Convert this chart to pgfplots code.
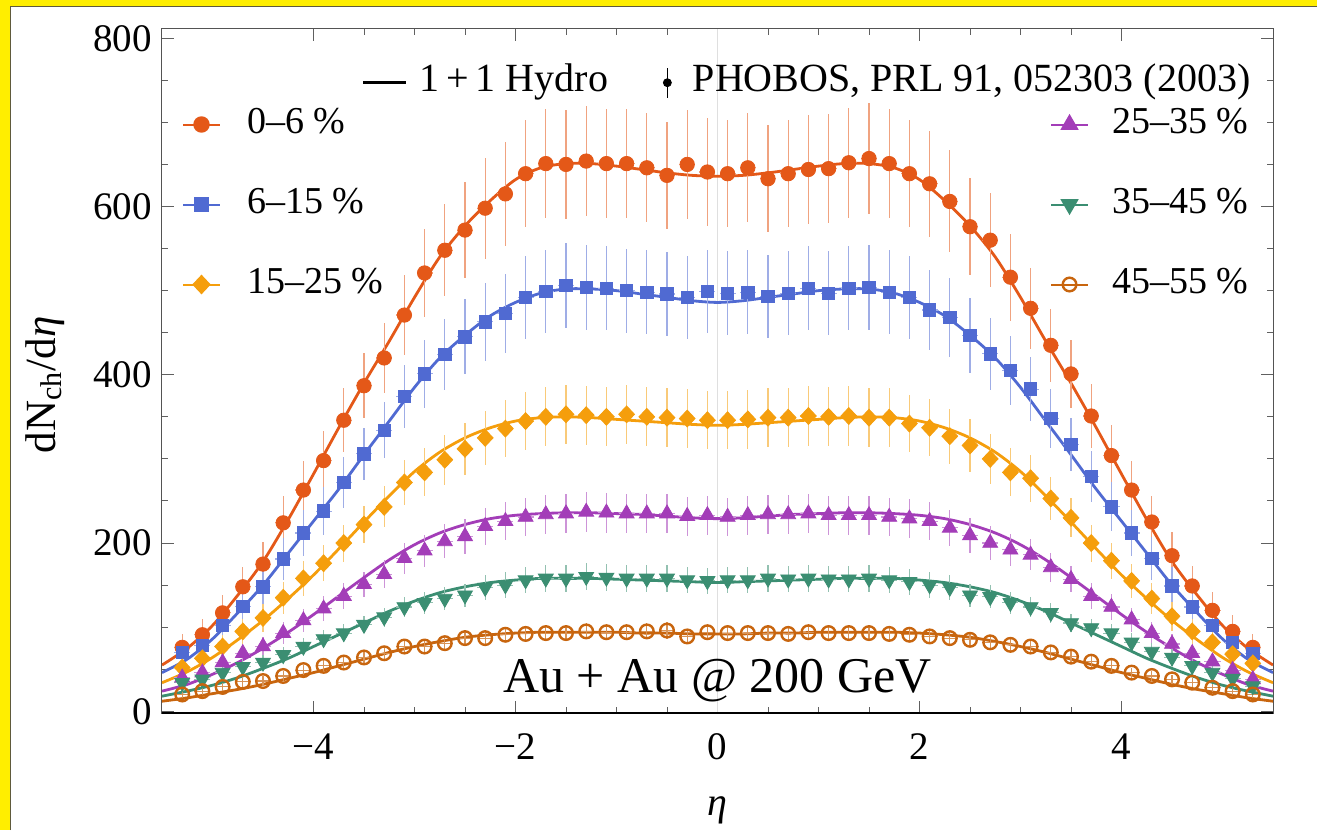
\documentclass[border=0pt]{standalone}
\usepackage{fontspec}
\setmainfont{Liberation Serif}
\usepackage{pgfplots}
\usepackage{pgfplotstable}
\pgfplotsset{compat=1.18}

\definecolor{c1}{RGB}{228,88,24}
\definecolor{c2}{RGB}{80,106,210}
\definecolor{c3}{RGB}{245,158,12}
\definecolor{c4}{RGB}{163,61,184}
\definecolor{c5}{RGB}{59,142,114}
\definecolor{c6}{RGB}{200,101,14}
\definecolor{bgy}{RGB}{255,238,0}
\definecolor{bgl}{RGB}{95,90,60}

\tikzset{
 s1/.style={color=c1, mark=*, mark size=3.6pt},
 s2/.style={color=c2, mark=square*, mark size=3.1pt},
 s3/.style={color=c3, mark=diamond*, mark size=4.2pt, mark options={xscale=1.25}},
 s4/.style={color=c4, mark=triangle*, mark size=4.3pt},
 s5/.style={color=c5, mark=triangle*, mark size=4.3pt, mark options={rotate=180}},
 s6/.style={color=c6, mark=o, mark size=3.4pt, mark options={line width=1.2pt}},
}

% PHOBOS data: eta, 0-6, 6-15, 15-25, 25-35, 35-45, 45-55, relative error
\pgfplotstableread{
x a b c d f g er
-5.3 76 70 52 40 34 20 0.21
-5.1 91 78 63 46 38 24 0.20
-4.9 117 102 77 58 46 29 0.18
-4.7 148 125 95 69 53 35 0.16
-4.5 175 148 111 77 58 36 0.15
-4.3 224 181 135 93 67 42 0.14
-4.1 263 212 158 108 77 49 0.13
-3.9 298 238 176 122 86 54 0.12
-3.7 346 272 200 137 93 58 0.11
-3.5 387 306 222 151 103 64 0.10
-3.3 420 334 243 163 112 69 0.10
-3.1 471 374 272 182 124 77 0.10
-2.9 521 401 284 191 129 77 0.10
-2.7 548 424 299 202 134 81 0.10
-2.5 572 445 312 208 138 87 0.10
-2.3 598 463 325 220 147 87 0.10
-2.1 615 473 336 226 150 91 0.10
-1.9 639 492 345 231 156 92 0.10
-1.7 651 499 350 234 158 93 0.10
-1.5 650 506 353 235 158 93 0.10
-1.3 654 504 352 237 160 95 0.10
-1.1 651 503 350 236 159 94 0.10
-0.9 651 500 353 235 158 94 0.10
-0.7 646 498 350 235 158 95 0.10
-0.5 637 496 349 235 158 96 0.10
-0.3 650 492 348 232 156 89 0.10
-0.1 641 499 346 233 155 94 0.10
0.1 639 497 346 231 156 93 0.10
0.3 646 498 347 233 156 93 0.10
0.5 633 493 349 234 158 93 0.10
0.7 639 497 349 234 157 92 0.10
0.9 644 503 351 235 158 94 0.10
1.1 645 497 350 233 157 93 0.10
1.3 652 503 351 233 157 93 0.10
1.5 657 504 349 233 158 93 0.10
1.7 651 498 349 231 156 92 0.10
1.9 639 492 342 229 154 91 0.10
2.1 627 477 337 226 150 89 0.10
2.3 606 468 327 218 147 87 0.10
2.5 576 447 316 209 138 85 0.10
2.7 560 425 300 200 136 82 0.10
2.9 516 405 284 192 129 79 0.10
3.1 479 383 277 186 124 77 0.10
3.3 435 348 253 171 117 70 0.10
3.5 401 317 230 157 105 65 0.10
3.7 351 279 200 137 99 59 0.11
3.9 304 243 179 124 93 54 0.12
4.1 263 212 155 109 82 46 0.13
4.3 225 182 134 93 71 42 0.14
4.5 185 149 113 80 64 38 0.15
4.7 149 124 95 69 54 34 0.16
4.9 120 102 82 59 46 28 0.18
5.1 95 82 68 49 39 24 0.20
5.3 76 69 57 38 30 20 0.21
}\dat

% 1+1 hydro curves
\pgfplotstableread{
x a b c d f g
-5.5 55 46 34 24 18 12
-5.25 75 62 47 32 24 16
-5.0 102 86 64 44 31 21
-4.75 138 117 85 58 40 26
-4.5 178 150 108 75 51 32
-4.25 228 188 134 94 63 39
-4.0 282 226 162 115 77 46
-3.75 337 264 193 137 91 54
-3.5 390 305 225 159 105 62
-3.25 440 345 256 180 119 70
-3.0 492 385 285 198 131 77
-2.75 540 420 308 212 141 83
-2.5 577 447 325 222 148 88
-2.25 607 470 337 229 153 91
-2.0 632 486 345 233 156 93
-1.75 646 497 349 235 158 94
-1.5 651 502 350 236 158 94
-1.25 651 502 349 236 158 94
-1.0 648 500 347 235 157 94
-0.75 644 496 345 234 156 93
-0.5 640 492 343 232 155 93
-0.25 637 488 341 230 154 92
0 636 486 340 229 153 92
0.25 637 488 341 230 154 92
0.5 640 492 343 232 155 93
0.75 644 496 345 234 156 93
1.0 648 500 347 235 157 94
1.25 651 502 349 236 158 94
1.5 651 502 350 236 158 94
1.75 646 497 349 235 158 94
2.0 632 486 345 233 156 93
2.25 607 470 337 229 153 91
2.5 577 447 325 222 148 88
2.75 540 420 308 212 141 83
3.0 492 385 285 198 131 77
3.25 440 345 256 180 119 70
3.5 390 305 225 159 105 62
3.75 337 264 193 137 91 54
4.0 282 226 162 115 77 46
4.25 228 188 134 94 63 39
4.5 178 150 108 75 51 32
4.75 138 117 85 58 40 26
5.0 102 86 64 44 31 21
5.25 75 62 47 32 24 16
5.5 55 46 34 24 18 12
}\hyd

\pgfplotsset{
 ovl/.style={scale only axis, width=555.5pt, height=342pt,
  xmin=-5.5, xmax=5.5, ymin=-2, ymax=811, hide axis,
  at={(0,0)}, anchor=south west, legend cell align=left,
  legend style={draw=none, fill=none, inner sep=0pt, outer sep=0pt,
   font=\fontsize{19}{19}\selectfont,
   nodes={inner sep=0pt, outer sep=0pt, text height=13pt, text depth=4pt}}},
 ebar/.style={error bars/.cd, x dir=both, x fixed=0.08, y dir=both, y explicit relative,
  error mark=none, error bar style={line width=0.55pt, #1}},
}

\begin{document}
\begin{tikzpicture}
\path[use as bounding box] (-81pt,-58.5pt) rectangle (577.5pt,356.5pt);
\fill[bgy] (-81pt,-58.5pt) rectangle (577.5pt,356.5pt);
\fill[white] (-75.75pt,-58.5pt) rectangle (577.5pt,353.25pt);
\draw[bgl, line width=0.8pt] (-75.75pt,-58.5pt) -- (-75.75pt,353.25pt) -- (577.5pt,353.25pt);

\begin{axis}[
 at={(0,0)}, anchor=south west,
 scale only axis, width=555.5pt, height=342pt,
 xmin=-5.5, xmax=5.5, ymin=-2, ymax=811,
 xtick={-4,-2,0,2,4}, xticklabels={−4,−2,0,2,4},
 ytick={0,200,400,600,800},
 minor x tick num=3, minor y tick num=3,
 major tick length=6pt, minor tick length=3pt,
 tick style={gray!75!black, line width=0.5pt},
 axis line style={gray!65!black, line width=0.5pt},
 /pgf/number format/assume math mode=true,
 tick label style={font=\fontsize{19.5}{20}\selectfont, black},
 yticklabel style={anchor=east, inner sep=0pt, xshift=-5pt},
 xticklabel style={anchor=north, inner sep=0pt, yshift=-10pt},
 xlabel={\textit{η}}, ylabel={dN\textsubscript{ch}/d\textit{η}},
 xlabel style={font=\fontsize{20}{20}\selectfont, at={(axis description cs:0.5,-0.143)}, anchor=center},
 ylabel style={font=\fontsize{21.5}{22}\selectfont, at={(axis description cs:-0.1053,0.4795)}, anchor=center},
]
\draw[gray!25, line width=0.5pt] (axis cs:0,-2) -- (axis cs:0,811);

\addplot[c1, line width=1.4pt, smooth, no markers] table[x=x, y=a] {\hyd};
\addplot[c2, line width=1.4pt, smooth, no markers] table[x=x, y=b] {\hyd};
\addplot[c3, line width=1.4pt, smooth, no markers] table[x=x, y=c] {\hyd};
\addplot[c4, line width=1.4pt, smooth, no markers] table[x=x, y=d] {\hyd};
\addplot[c5, line width=1.4pt, smooth, no markers] table[x=x, y=f] {\hyd};
\addplot[c6, line width=1.4pt, smooth, no markers] table[x=x, y=g] {\hyd};

\addplot[s1, only marks, ebar={c1!55!white}] table[x=x, y=a, y error=er] {\dat};
\addplot[s2, only marks, ebar={c2!55!white}] table[x=x, y=b, y error=er] {\dat};
\addplot[s3, only marks, ebar={c3!55!white}] table[x=x, y=c, y error=er] {\dat};
\addplot[s4, only marks, ebar={c4!55!white}] table[x=x, y=d, y error=er] {\dat};
\addplot[s5, only marks, ebar={c5!55!white}] table[x=x, y=f, y error=er] {\dat};
\addplot[s6, only marks, ebar={c6!70!white}] table[x=x, y=g, y error=er] {\dat};

\node[anchor=base, font=\fontsize{25}{25}\selectfont] at (axis cs:0,22) {Au + Au @ 200 GeV};
\draw[black, line width=0.8pt] (rel axis cs:0,0) -- (rel axis cs:1,0);
\end{axis}

% legend: left column
\begin{axis}[ovl,
 legend style={at={(axis description cs:0.018,0.8852)}, anchor=north west, row sep=23pt, column sep=13pt},
 legend image code/.code={\draw[#1,mark repeat=2,mark phase=2] plot coordinates {(0pt,0pt) (9.25pt,0pt) (18.5pt,0pt)};}]
\addlegendimage{s1, line width=1pt}
\addlegendentry{0–6 \%}
\addlegendimage{s2, line width=1pt}
\addlegendentry{6–15 \%}
\addlegendimage{s3, line width=1pt}
\addlegendentry{15–25 \%}
\end{axis}

% legend: right column
\begin{axis}[ovl,
 legend style={at={(axis description cs:0.7993,0.8852)}, anchor=north west, row sep=23pt, column sep=11.5pt},
 legend image code/.code={\draw[#1,mark repeat=2,mark phase=2] plot coordinates {(0pt,0pt) (9.25pt,0pt) (18.5pt,0pt)};}]
\addlegendimage{s4, line width=1pt}
\addlegendentry{25–35 \%}
\addlegendimage{s5, line width=1pt}
\addlegendentry{35–45 \%}
\addlegendimage{s6, line width=1pt}
\addlegendentry{45–55 \%}
\end{axis}

% legend: hydro
\begin{axis}[ovl,
 legend style={at={(axis description cs:0.18,0.9463)}, anchor=north west, column sep=6pt,
  font=\fontsize{20}{20}\selectfont},
 legend image code/.code={\draw[#1] (0pt,0pt) -- (21.5pt,0pt);}]
\addlegendimage{black, line width=1.5pt}
\addlegendentry{1\,+\,1 Hydro}
\end{axis}

% legend: PHOBOS
\begin{axis}[ovl,
 legend style={at={(axis description cs:0.4509,0.9463)}, anchor=north west, column sep=10.5pt,
  font=\fontsize{20}{20}\selectfont},
 legend image code/.code={\draw[black, line width=0.6pt] (2pt,-7.5pt) -- (2pt,7.5pt); \fill[black] (2pt,0pt) circle (2pt);}]
\addlegendimage{black}
\addlegendentry{PHOBOS, PRL 91, 052303 (2003)}
\end{axis}
\end{tikzpicture}
\end{document}
